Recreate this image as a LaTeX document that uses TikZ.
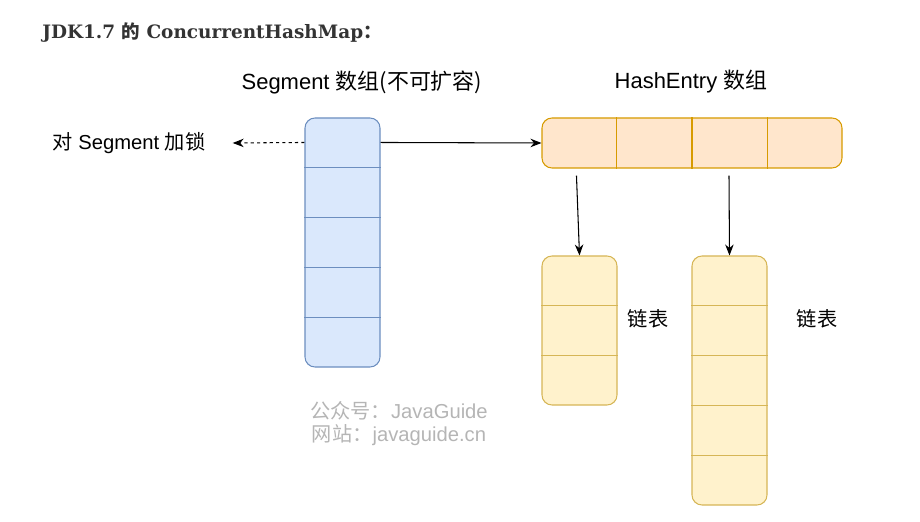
\documentclass[tikz,border=0pt]{standalone}
\usepackage{fontspec}
\setmainfont{Liberation Sans}
\newfontfamily\cjk{Noto Sans CJK SC}
\newfontfamily\titlefont{DejaVu Serif}
\usetikzlibrary{arrows.meta}
\definecolor{segfill}{HTML}{DAE8FC}
\definecolor{segline}{HTML}{6C8EBF}
\definecolor{entryfill}{HTML}{FFE6CC}
\definecolor{entryline}{HTML}{D79B00}
\definecolor{listfill}{HTML}{FFF2CC}
\definecolor{listline}{HTML}{D6B656}
\definecolor{titlegray}{HTML}{333333}
\definecolor{markgray}{HTML}{B5B5B5}
\tikzset{
	arr/.style={rectangle, rounded corners=2mm, line width=0.6pt, minimum width=15mm, inner sep=0pt},
	segarr/.style={arr, draw=segline, fill=segfill},
	entryarr/.style={arr, draw=entryline, fill=entryfill, minimum width=60mm, minimum height=10mm},
	listarr/.style={arr, draw=listline, fill=listfill},
	lbl/.style={font=\fontsize{11.5}{13}\selectfont, inner sep=0pt},
	head/.style={font=\fontsize{12.5}{14}\selectfont, inner sep=0pt},
	link/.style={line width=0.6pt, -{Stealth[length=2.2mm, width=1.7mm]}},
}

\begin{document}
\begin{tikzpicture}[x=0.2mm, y=-0.2mm]
		%%%%% START %%%%%
		\useasboundingbox (0, 0) rectangle (920, 522);
		
		\node[anchor=west, inner sep=0pt, text=titlegray, font=\titlefont\bfseries\fontsize{10.5}{12}\selectfont] (title) at (42, 33) {JDK1.7 {\cjk 的} ConcurrentHashMap{\cjk ：}};
		
		% segment array
		\node[head] (seghead) at (362, 82) {Segment {\cjk 数组(不可扩容)}};
		\node[segarr, minimum height=49.8mm] (seg) at (342.5, 242.5) {};
		\draw[segline, line width=0.6pt] ([yshift=-10mm]seg.north west) -- ([yshift=-10mm]seg.north east);
		\draw[segline, line width=0.6pt] ([yshift=-20mm]seg.north west) -- ([yshift=-20mm]seg.north east);
		\draw[segline, line width=0.6pt] ([yshift=-30mm]seg.north west) -- ([yshift=-30mm]seg.north east);
		\draw[segline, line width=0.6pt] ([yshift=-40mm]seg.north west) -- ([yshift=-40mm]seg.north east);
		
		\node[lbl] (lock) at (129, 143) {{\cjk 对} Segment {\cjk 加锁}};
		\draw[link, dash pattern=on 1.8pt off 1.8pt] ([yshift=-5mm]seg.north west) -- ([xshift=5.4mm]lock.east);
		
		% hashentry array
		\node[head] (entryhead) at (691, 82) {HashEntry {\cjk 数组}};
		\node[entryarr] (entry) at (692, 143) {};
		\draw[entryline, line width=0.6pt] ([xshift=15mm]entry.north west) -- ([xshift=15mm]entry.south west);
		\draw[entryline, line width=0.6pt] (entry.north) -- (entry.south);
		\draw[entryline, line width=0.6pt] ([xshift=-15mm]entry.north east) -- ([xshift=-15mm]entry.south east);
		\draw[link] ([yshift=-5mm]seg.north east) -- (entry.west);
		
		% lists
		\node[listarr, minimum height=29.8mm] (list1) at (579.5, 330.5) {};
		\draw[listline, line width=0.6pt] ([yshift=-10mm]list1.north west) -- ([yshift=-10mm]list1.north east);
		\draw[listline, line width=0.6pt] ([yshift=-20mm]list1.north west) -- ([yshift=-20mm]list1.north east);
		\node[lbl] (list1lbl) at (648, 319) {\cjk 链表};
		
		\node[listarr, minimum height=49.8mm] (list2) at (729.5, 380.5) {};
		\draw[listline, line width=0.6pt] ([yshift=-10mm]list2.north west) -- ([yshift=-10mm]list2.north east);
		\draw[listline, line width=0.6pt] ([yshift=-20mm]list2.north west) -- ([yshift=-20mm]list2.north east);
		\draw[listline, line width=0.6pt] ([yshift=-30mm]list2.north west) -- ([yshift=-30mm]list2.north east);
		\draw[listline, line width=0.6pt] ([yshift=-40mm]list2.north west) -- ([yshift=-40mm]list2.north east);
		\node[lbl] (list2lbl) at (817, 319) {\cjk 链表};
		
		\draw[link] ([shift={(7mm, -1.4mm)}]entry.south west) -- (list1.north);
		\draw[link] ([shift={(7.4mm, -1.4mm)}]entry.south) -- (list2.north);
		
		% watermark
		\node[lbl, text=markgray] (mark1) at (399, 411) {{\cjk 公众号：}JavaGuide};
		\node[lbl, text=markgray] (mark2) at (399, 435) {{\cjk 网站：}javaguide.cn};
		%%%%% END %%%%%
	\end{tikzpicture}
\end{document}
